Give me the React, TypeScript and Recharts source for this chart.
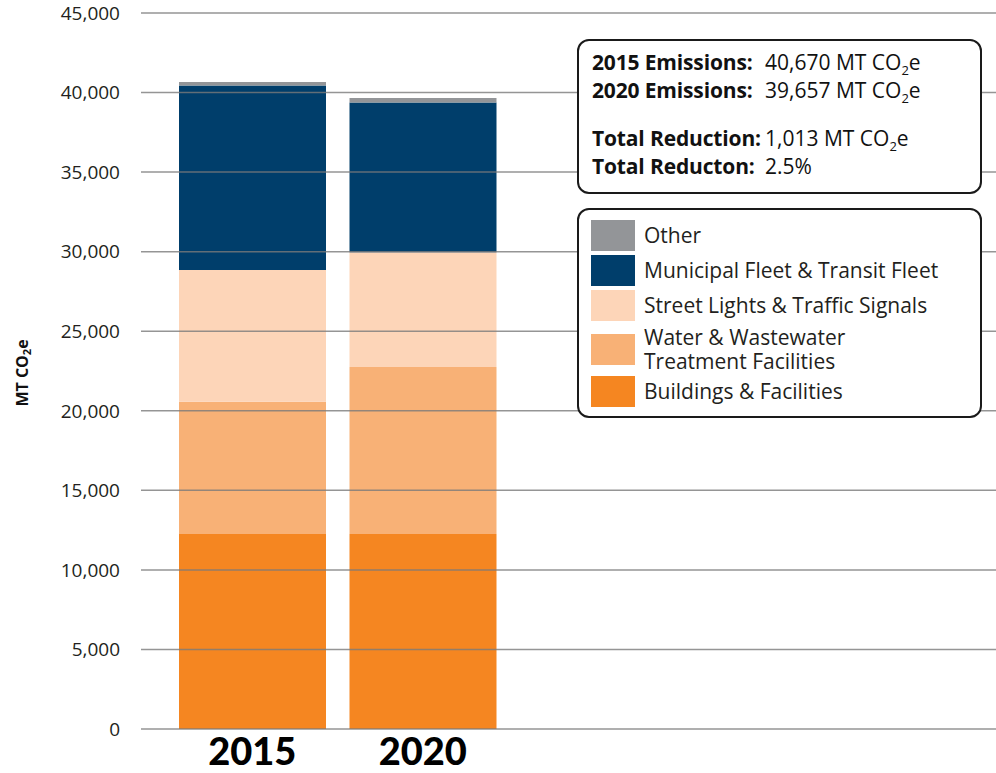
import React from 'react';
import { BarChart, Bar, XAxis, YAxis, ReferenceLine, Legend, Label } from 'recharts';

const YEARS = ['2015', '2020'];
const BUILDINGS = [12260, 12250];
const WATER = [8310, 10500];
const STREET = [8280, 7210];
const FLEET = [11590, 9420];
const OTHER = [230, 277];
const Y_TICKS = [0, 5000, 10000, 15000, 20000, 25000, 30000, 35000, 40000, 45000];

const SERIES = [
  { key: 'buildings', name: 'Buildings & Facilities', lines: ['Buildings & Facilities'], values: BUILDINGS, color: '#f58621' },
  { key: 'water', name: 'Water & Wastewater Treatment Facilities', lines: ['Water & Wastewater', 'Treatment Facilities'], values: WATER, color: '#f8b176' },
  { key: 'street', name: 'Street Lights & Traffic Signals', lines: ['Street Lights & Traffic Signals'], values: STREET, color: '#fdd5b8' },
  { key: 'fleet', name: 'Municipal Fleet & Transit Fleet', lines: ['Municipal Fleet & Transit Fleet'], values: FLEET, color: '#003e6b' },
  { key: 'other', name: 'Other', lines: ['Other'], values: OTHER, color: '#939598' },
];

const SUMMARY_LABELS = ['2015 Emissions:', '2020 Emissions:', 'Total Reduction:', 'Total Reducton:'];
const SUMMARY_NUMBERS = ['40,670', '39,657', '1,013', '2.5%'];
const SUMMARY_UNIT = [true, true, true, false];

const data = YEARS.map((year, i) => {
  const row: any = { year };
  SERIES.forEach((s) => {
    row[s.key] = s.values[i];
  });
  return row;
});

const FONT = '"Open Sans", "Lato", sans-serif';

const fmt = (v: number) => v.toLocaleString('en-US');

const Sub2 = () => (
  <span style={{ fontSize: 13, position: 'relative', top: 5 }}>2</span>
);

const LegendBox = () => {
  const items = [...SERIES].reverse();
  return (
    <div
      style={{
        width: 401,
        height: 196,
        border: '2px solid #1a1a1a',
        borderRadius: 12,
        background: '#fff',
        boxSizing: 'content-box',
        paddingTop: 10,
        fontFamily: FONT,
        fontSize: 21,
        color: '#231f20',
        textAlign: 'left',
      }}
    >
      {items.map((s) => (
        <div
          key={s.key}
          style={{
            display: 'flex',
            alignItems: 'center',
            height: s.lines.length > 1 ? 48 : 31,
            marginBottom: s.lines.length > 1 ? 3 : 4,
            paddingLeft: 12,
          }}
        >
          <div style={{ width: 44, height: 31, background: s.color, flex: '0 0 auto' }} />
          <div style={{ marginLeft: 9, lineHeight: '24.5px', whiteSpace: 'nowrap' }}>
            {s.lines.map((l) => (
              <div key={l}>{l}</div>
            ))}
          </div>
        </div>
      ))}
    </div>
  );
};

const YLabel = (props: any) => {
  const vb = props.viewBox || {};
  const cy = (vb.y || 0) + (vb.height || 0) / 2 + 2;
  const cx = 22;
  return (
    <text
      x={cx}
      y={cy}
      transform={`rotate(-90 ${cx} ${cy})`}
      textAnchor="middle"
      dominantBaseline="central"
      style={{ fontFamily: FONT, fontWeight: 700, fontSize: 16, fill: '#111' }}
    >
      MT CO
      <tspan fontSize={11} dy={4}>2</tspan>
      <tspan dy={-4}>e</tspan>
    </text>
  );
};

export default function App() {
  return (
    <div style={{ position: 'absolute', left: 0, top: 0, width: 996, height: 773, background: '#fff' }}>
      <BarChart
        width={996}
        height={773}
        data={data}
        margin={{ top: 13, right: 0, bottom: 0, left: 0 }}
        barCategoryGap={12}
      >
        <XAxis
          dataKey="year"
          axisLine={false}
          tickLine={false}
          tickSize={0}
          tickMargin={9}
          padding={{ left: 26, right: 488 }}
          height={44}
          interval={0}
          tick={{ fill: '#000', fontSize: 38, fontWeight: 900, fontFamily: '"Lato", sans-serif' }}
        />
        <YAxis
          width={141}
          domain={[0, 45000]}
          ticks={Y_TICKS}
          interval={0}
          axisLine={false}
          tickLine={false}
          tickSize={0}
          tickMargin={21}
          tickFormatter={fmt}
          tick={{ fill: '#231f20', fontSize: 19, fontFamily: FONT }}
        >
          <Label content={<YLabel />} position="left" />
        </YAxis>
        {SERIES.map((s) => (
          <Bar key={s.key} dataKey={s.key} name={s.name} stackId="a" fill={s.color} isAnimationActive={false} />
        ))}
        {Y_TICKS.map((t) => (
          <ReferenceLine key={t} y={t} stroke="#7a7a7a" strokeWidth={1.5} strokeOpacity={0.8} />
        ))}
        <Legend
          layout="vertical"
          align="center"
          verticalAlign="middle"
          content={<LegendBox />}
          wrapperStyle={{ position: 'absolute', left: 577, top: 208, width: 405, height: 210, margin: 0 }}
        />
      </BarChart>
      <div
        style={{
          position: 'absolute',
          left: 577,
          top: 39,
          width: 401,
          height: 144,
          border: '2px solid #1a1a1a',
          borderRadius: 12,
          background: '#fff',
          fontFamily: FONT,
          fontSize: 21,
          color: '#111',
          paddingTop: 7,
          boxSizing: 'content-box',
        }}
      >
        {SUMMARY_LABELS.map((lab, i) => (
          <div
            key={lab}
            style={{
              display: 'flex',
              height: 28,
              lineHeight: '28px',
              paddingLeft: 13,
              marginTop: i === 2 ? 20 : 0,
              whiteSpace: 'nowrap',
            }}
          >
            <span style={{ minWidth: 170, fontWeight: 700, letterSpacing: -0.15 }}>{lab}</span>
            <span style={{ marginLeft: 3 }}>
              {SUMMARY_NUMBERS[i]}
              {SUMMARY_UNIT[i] ? (
                <>
                  {' MT CO'}
                  <Sub2 />
                  {'e'}
                </>
              ) : null}
            </span>
          </div>
        ))}
      </div>
    </div>
  );
}
